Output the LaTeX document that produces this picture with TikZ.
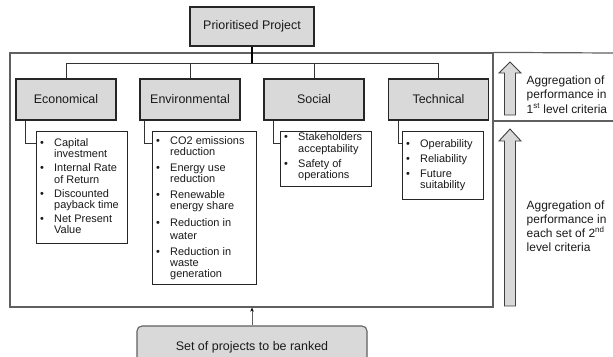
\documentclass[tikz,border=0pt]{standalone}
\usepackage{fontspec}
\setmainfont{Liberation Sans}
\usetikzlibrary{arrows.meta}
\definecolor{boxgray}{HTML}{D9D9D9}
\definecolor{linegray}{HTML}{606060}
\definecolor{inkcol}{HTML}{1A1A1A}
\begin{document}
\begin{tikzpicture}[x=1bp,y=-1bp,
  every node/.style={text=inkcol},
  hdr/.style={draw=black!85, line width=1.1bp, fill=boxgray, minimum width=100bp, minimum height=41bp, inner sep=0, font=\fontsize{12.5}{14}\selectfont},
  listbox/.style={draw=black!85, line width=0.9bp, fill=white, anchor=north west, inner sep=0},
  listtxt/.style={anchor=base west, inner sep=0, font=\fontsize{11}{11}\selectfont},
  tree/.style={draw=black!80, line width=1bp},
  side/.style={anchor=base west, inner sep=0, align=left},
  bigarrow/.style={draw=black!75, line width=0.9bp, fill=boxgray, line join=miter},
]
\useasboundingbox (0,0) rectangle (613,356);

% outer frame and right-hand separators
\node[draw=linegray, line width=1.2bp, minimum width=483bp, minimum height=254bp, inner sep=0] (frame) at (251.5,180) {};
\coordinate (rtop) at (613,53);
\coordinate (rmid) at (613,121);
\draw[draw=linegray, line width=1.2bp] (frame.north east) -- (rtop);
\draw[draw=linegray, line width=1.2bp] (frame.east |- rmid) -- (rmid);

% top node
\node[hdr, minimum width=124bp, minimum height=39bp] (pp) at (252,26.5) {Prioritised Project};

% first level criteria
\node[hdr] (econ) at (66,99.5) {Economical};
\node[hdr] (env) at (190,99.5) {Environmental};
\node[hdr] (soc) at (314,99.5) {Social};
\node[hdr] (tech) at (438.5,99.5) {Technical};

% tree
\coordinate (bar) at (252,63);
\draw[line width=2.2bp, black] (pp.south) -- (bar);
\draw[tree] (econ.north) -- (econ.north |- bar) -- (tech.north |- bar) -- (tech.north);
\draw[tree] (env.north) -- (env.north |- bar);
\draw[tree] (soc.north) -- (soc.north |- bar);

% second level lists
\node[listbox, minimum width=91bp, minimum height=112bp] (el) at (36,131) {};
\node[listbox, minimum width=104bp, minimum height=153bp] (nl) at (152,131) {};
\node[listbox, minimum width=91bp, minimum height=55bp] (sl) at (280,131) {};
\node[listbox, minimum width=81bp, minimum height=68bp] (tl) at (402,131) {};

\draw[tree] ([xshift=10bp]econ.south west) |- ([yshift=-12bp]el.north west);
\draw[tree] ([xshift=5bp]env.south west) |- ([yshift=-12bp]nl.north west);
\draw[tree] ([xshift=10bp]soc.south west) |- ([yshift=-12bp]sl.north west);
\draw[tree] ([xshift=11bp]tech.south west) |- ([yshift=-12bp]tl.north west);

\node[listtxt] (elt) at (40,146.5) {\begin{tabular}[t]{@{}p{14bp}@{}l@{}}
\textbullet & Capital\\ & investment\\[3bp]
\textbullet & Internal Rate\\ & of Return\\[3bp]
\textbullet & Discounted\\ & payback time\\[3bp]
\textbullet & Net Present\\ & Value
\end{tabular}};

\node[listtxt] (nlt) at (156,144) {\begin{tabular}[t]{@{}p{14bp}@{}l@{}}
\textbullet & CO2 emissions\\ & reduction\\[5bp]
\textbullet & Energy use\\ & reduction\\[5bp]
\textbullet & Renewable\\ & energy share\\[5bp]
\textbullet & Reduction in\\[2bp] & water\\[5bp]
\textbullet & Reduction in\\ & waste\\ & generation
\end{tabular}};

\node[listtxt] (slt) at (284,140.5) {\begin{tabular}[t]{@{}p{14bp}@{}l@{}}
\textbullet & Stakeholders\\[1bp] & acceptability\\[3.5bp]
\textbullet & Safety of\\ & operations
\end{tabular}};

\node[listtxt] (tlt) at (406,147) {\begin{tabular}[t]{@{}p{14bp}@{}l@{}}
\textbullet & Operability\\[4bp]
\textbullet & Reliability\\[4bp]
\textbullet & Future\\ & suitability
\end{tabular}};

% bottom box and arrow
\node[draw=linegray, line width=1.1bp, fill=boxgray, rounded corners=5bp, minimum width=230bp, minimum height=42bp, inner sep=0, font=\fontsize{12.5}{14}\selectfont] (set) at (252,347) {Set of projects to be ranked};
\draw[draw=linegray, line width=0.9bp, -{Stealth[length=4bp,width=3.5bp,black]}] (set.north) -- (set.north |- frame.south);

% right-hand aggregation arrows
\draw[bigarrow] (504.5,115) -- (504.5,73) -- (499,73) -- (510,62) -- (521,73) -- (515.5,73) -- (515.5,115) -- cycle;
\draw[bigarrow] (504.5,306) -- (504.5,141) -- (499,141) -- (510,129) -- (521,141) -- (515.5,141) -- (515.5,306) -- cycle;

% base anchor of a multi-line node is the baseline of its last line
\node[side, font=\fontsize{12}{14.4}\selectfont] (agg1) at (526.5,113) {Aggregation of\\performance in\\1\textsuperscript{st} level criteria};
\node[side, font=\fontsize{12}{14}\selectfont] (agg2) at (526.5,251) {Aggregation of\\performance in\\each set of 2\textsuperscript{nd}\\level criteria};
\end{tikzpicture}
\end{document}
